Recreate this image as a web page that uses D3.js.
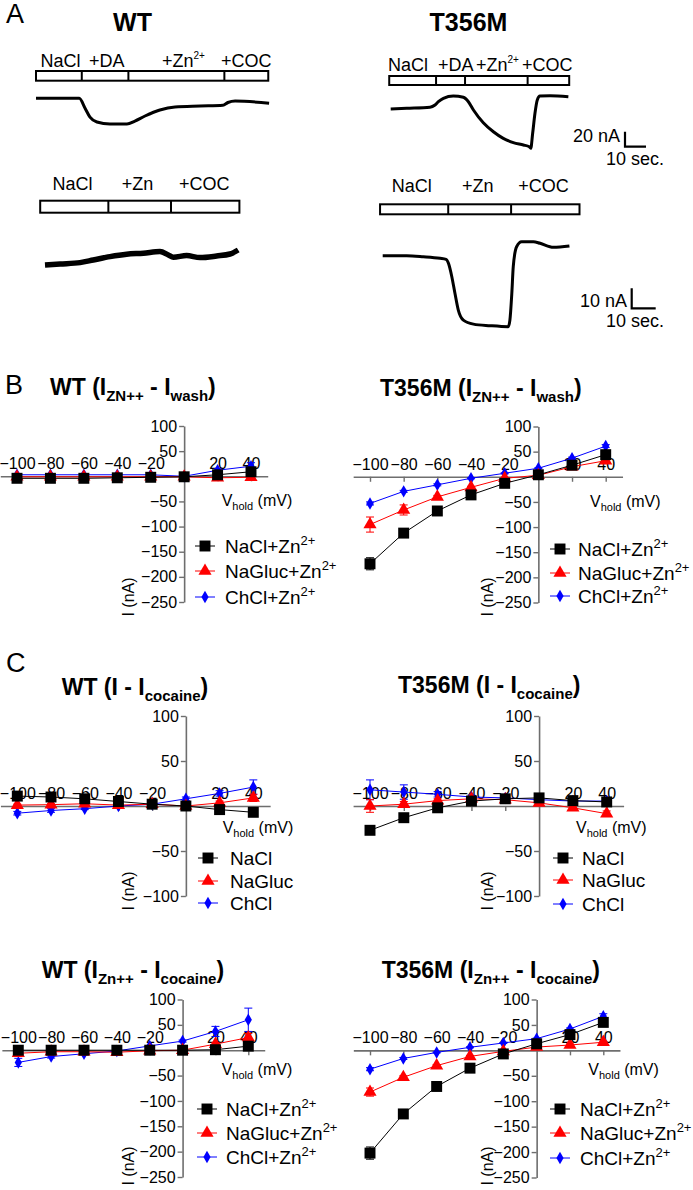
<!DOCTYPE html>
<html>
<head>
<meta charset="utf-8">
<script src="https://cdn.jsdelivr.net/npm/d3@7"></script>
<style>
  body { margin: 0; background: #fff; }
  svg { font-family: "Liberation Sans", Arial, Helvetica, sans-serif; }
  text { white-space: pre; }
</style>
</head>
<body>
<svg id="fig" width="693" height="1190"></svg>
<script>
// ---- panel A traces (time in s, current in nA, relative to start) ----
const wtTopT = [0, 20.6, 23.3, 25.7, 29, 35.2, 43.3, 47.1, 51.9, 59, 66.2, 78.1, 89, 91.4, 94.8, 111];
const wtTopI = [0, 0, -12.9, -25.1, -31.6, -34.3, -34.3, -30.3, -23.6, -15.6, -11.6, -10.3, -9.3, -5.6, -3.6, -6.7];
const mutTopT = [0, 7.6, 18.7, 21.1, 22.7, 25.1, 29.8, 34.6, 37, 39.4, 44.1, 48.9, 53.6, 58.4, 63.2, 66, 66.7, 67.6, 68.7, 69.8, 71.1, 75.9, 84.6];
const mutTopI = [0, 0.9, 2.3, 5.3, 9.7, 14.3, 17.3, 15.6, 9.7, -1.3, -18.3, -30.3, -39.1, -44.9, -48, -50.3, -52.4, -32.4, -5.7, 12, 17.3, 17.7, 16.4];
const wtBotT = [0, 6.3, 14.6, 20.1, 27.1, 34, 41, 47.9, 51.4, 53.5, 59, 64.6, 71.5, 77.1, 80.5];
const wtBotI = [0, 0.5, 1.2, 2.5, 4.2, 5.4, 5.9, 6.7, 5, 3.9, 4.7, 3.7, 4.5, 5.5, 7.5];
const mutBotT = [0, 10, 16.9, 23.9, 26.4, 27.4, 28.8, 30.1, 31.5, 33.6, 37.8, 44.7, 52.3, 53, 53.8, 54.4, 55.8, 57.9, 62.8, 65.6, 71.1, 77.8];
const mutBotI = [0, 0, -0.5, -1.3, -1.8, -3.8, -10.5, -18.8, -27.2, -32.2, -34.2, -35, -35.5, -32.2, -18.8, -5.5, 4.5, 7, 7, 6.2, 4.2, 4.9];

// protocol bar boundaries (s) and labels
const wtTopBar = [0, 21.8, 44, 89.7, 110.6];
const mutTopBar = [-0.7, 21.6, 35.4, 65.2, 85];
const wtBotBar = [-2, 26.4, 52.5, 81];
const mutBotBar = [-1.1, 27.3, 53.5, 82];
const topLabels = ["NaCl", "+DA", "+Zn", "+COC"];
const botLabels = ["NaCl", "+Zn", "+COC"];
const wtTopLabelT = [2.2, 25.2, 60, 88.1];
const mutTopLabelT = [-1.3, 22.5, 40.6, 62.5];
const wtBotLabelT = [11.5, 38.6, 66.4];
const mutBotLabelT = [12.1, 39.6, 67];

// ---- I-V data ----
const volts = [-100, -80, -60, -40, -20, 0, 20, 40];
const xTickVals = [-100, -80, -60, -40, -20, 20, 40];
const bigTicks = [100, 50, -50, -100, -150, -200, -250];
const smallTicks = [100, 50, -50, -100];
const colors = ["#000000", "#ff0000", "#0000ff"];

// B: I(Zn++) - I(wash)
const bWtNaCl = [-4, -4, -4, -3, -2, -1, 3, 9];
const bWtNaClErr = [1, 1, 1, 1, 1, 1, 2, 3];
const bWtNaGluc = [-1, -1, -1, -1, -1, -1, -3, -2];
const bWtNaGlucErr = [1, 1, 1, 1, 1, 1, 2, 2];
const bWtChCl = [3, 3, 3, 3, 3, 0, 12, 20];
const bWtChClErr = [1, 1, 1, 1, 1, 1, 3, 7];
const bMutNaCl = [-173, -112, -68, -36, -13, 4, 23, 44];
const bMutNaClErr = [12, 5, 3, 3, 2, 1, 3, 4];
const bMutNaGluc = [-95, -66, -40, -21, -3, 3, 20, 32];
const bMutNaGlucErr = [15, 10, 3, 2, 2, 1, 2, 3];
const bMutChCl = [-53, -29, -16, -3, 7, 17, 37, 61];
const bMutChClErr = [3, 2, 2, 1, 1, 1, 2, 3];

// C top: I - I(cocaine)
const cWtNaCl = [11, 10, 8, 5, 2, 0, -4, -7];
const cWtNaClErr = [2, 2, 2, 2, 1, 1, 2, 3];
const cWtNaGluc = [1, 1.5, 2.5, 1, 2, 0, 3.5, 9];
const cWtNaGlucErr = [1, 1, 1, 1, 1, 1, 2, 4];
const cWtChCl = [-8, -5, -3, 0, 2, 8, 14, 21];
const cWtChClErr = [2, 2, 1, 1, 1, 2, 3, 8];
const cMutNaCl = [-27, -13, -2, 5.5, 8, 9, 6, 4.5];
const cMutNaClErr = [2, 2, 1, 1, 1, 1, 1, 2];
const cMutNaGluc = [0, 2, 6, 8, 7, 3.5, -2, -8.5];
const cMutNaGlucErr = [7, 3, 2, 1, 1, 1, 2, 3];
const cMutChCl = [18, 15.5, 13, 10, 9, 7, 5.5, 5.5];
const cMutChClErr = [11, 8, 3, 2, 1, 1, 2, 4];

// C bottom: I(Zn++) - I(cocaine)
const dWtNaCl = [0, 0, 0, 0, 0, 0, 1, 8];
const dWtNaClErr = [1, 1, 1, 1, 1, 1, 1, 3];
const dWtNaGluc = [-6, -3, -3, -4, -1, 0, 12, 25];
const dWtNaGlucErr = [2, 1, 1, 1, 1, 1, 3, 8];
const dWtChCl = [-24, -12.5, -7, -1.5, 8.5, 18, 37, 60];
const dWtChClErr = [8, 3, 2, 1, 1, 2, 10, 23];
const dMutNaCl = [-202, -125, -71, -35, -7, 13, 31, 55];
const dMutNaClErr = [12, 5, 4, 3, 2, 2, 3, 5];
const dMutNaGluc = [-82, -53, -30, -12, -2, 6.5, 10.5, 16];
const dMutNaGlucErr = [8, 3, 2, 2, 1, 1, 2, 2];
const dMutChCl = [-37, -16, -4, 6, 14.5, 23, 42, 67];
const dMutChClErr = [3, 2, 1, 1, 1, 1, 2, 5];

const svg = d3.select("#fig");

// text with sub/superscripts: segs = [text, size, baseline offset, weight]
function rich(t, segs) {
  let cur = 0;
  segs.forEach(([s, fs, off, w]) => {
    t.append("tspan").attr("font-size", fs).attr("dy", off - cur)
      .attr("font-weight", w || null).text(s);
    cur = off;
  });
  return t;
}

// ---- panel letters ----
[["A", 6, 23], ["B", 5, 394], ["C", 6, 672]].forEach(([s, x, y]) => {
  svg.append("text").attr("x", x).attr("y", y).attr("font-size", 27).text(s);
});

// ---- panel A ----
[["WT", 132.5], ["T356M", 468.5]].forEach(([s, x]) => {
  svg.append("text").attr("x", x).attr("y", 31).attr("text-anchor", "middle")
    .attr("font-size", 25).attr("font-weight", "bold").text(s);
});

const traces = [
  { t: wtTopT, I: wtTopI, x0: 36, sx: 2.1, y0: 98.3, sy: 0.75, lw: 3,
    bar: wtTopBar, barY: 71, barH: 9.7, labels: topLabels, lt: wtTopLabelT, ly: 66.7, anchor: "start" },
  { t: mutTopT, I: mutTopI, x0: 390.7, sx: 2.1, y0: 109, sy: 0.75, lw: 3,
    bar: mutTopBar, barY: 76, barH: 9, labels: topLabels, lt: mutTopLabelT, ly: 71, anchor: "start",
    scale: { nA: 20, s: 10, cx: 625, cy: 146.7, nAx: 620, nAy: 141.5, sx2: 606, sy2: 165 } },
  { t: wtBotT, I: wtBotI, x0: 45, sx: 2.4, y0: 265, sy: 2, lw: 5.5,
    bar: wtBotBar, barY: 200.7, barH: 12, labels: botLabels, lt: wtBotLabelT, ly: 190, anchor: "middle" },
  { t: mutBotT, I: mutBotI, x0: 382.7, sx: 2.4, y0: 255.7, sy: 2, lw: 3,
    bar: mutBotBar, barY: 204.3, barH: 10, labels: botLabels, lt: mutBotLabelT, ly: 192.3, anchor: "middle",
    scale: { nA: 10, s: 10, cx: 631.7, cy: 308.3, nAx: 627, nAy: 306.5, sx2: 606, sy2: 327.3 } }
];

traces.forEach(c => {
  const x = d3.scaleLinear().domain([0, 100]).range([c.x0, c.x0 + 100 * c.sx]);
  const y = d3.scaleLinear().domain([0, 100]).range([c.y0, c.y0 - 100 * c.sy]);
  const g = svg.append("g");
  // protocol bar
  g.append("rect").attr("x", x(c.bar[0])).attr("y", c.barY)
    .attr("width", x(c.bar[c.bar.length - 1]) - x(c.bar[0])).attr("height", c.barH)
    .attr("fill", "#fff").attr("stroke", "#000").attr("stroke-width", 2);
  c.bar.slice(1, -1).forEach(b => {
    g.append("line").attr("x1", x(b)).attr("x2", x(b)).attr("y1", c.barY).attr("y2", c.barY + c.barH)
      .attr("stroke", "#000").attr("stroke-width", 2);
  });
  c.labels.forEach((s, i) => {
    const t = g.append("text").attr("x", x(c.lt[i])).attr("y", c.ly)
      .attr("text-anchor", c.anchor).attr("font-size", 18);
    if (s === "+Zn" && c.anchor === "start") rich(t, [["+Zn", 18, 0], ["2+", 10, -8]]);
    else t.text(s);
  });
  // trace
  const line = d3.line().x(d => x(d[0])).y(d => y(d[1])).curve(d3.curveMonotoneX);
  g.append("path").attr("d", line(d3.zip(c.t, c.I))).attr("fill", "none")
    .attr("stroke", "#000").attr("stroke-width", c.lw).attr("stroke-linejoin", "round");
  // scale bar
  if (c.scale) {
    const s = c.scale;
    const h = y(0) - y(s.nA), w = x(s.s) - x(0);
    g.append("path").attr("d", `M${s.cx},${s.cy - h}V${s.cy}H${s.cx + w}`)
      .attr("fill", "none").attr("stroke", "#000").attr("stroke-width", 2.2);
    g.append("text").attr("x", s.nAx).attr("y", s.nAy).attr("text-anchor", "end")
      .attr("font-size", 18).text(`${s.nA} nA`);
    g.append("text").attr("x", s.sx2).attr("y", s.sy2).attr("font-size", 18).text(`${s.s} sec.`);
  }
});

// ---- I-V panels ----
const zLegend = [[["NaCl+Zn", 19, 0], ["2+", 13, -8]],
                 [["NaGluc+Zn", 19, 0], ["2+", 13, -8]],
                 [["ChCl+Zn", 19, 0], ["2+", 13, -8]]];
const plainLegend = [[["NaCl", 19, 0]], [["NaGluc", 19, 0]], [["ChCl", 19, 0]]];
const B = "bold";
const tWash = n => [[n + " (I", 23, 0, B], ["ZN++", 15, 6, B], [" - I", 23, 0, B], ["wash", 15, 6, B], [")", 23, 0, B]];
const tCoc = n => [[n + " (I - I", 23, 0, B], ["cocaine", 15, 6, B], [")", 23, 0, B]];
const tZnCoc = n => [[n + " (I", 23, 0, B], ["Zn++", 15, 6, B], [" - I", 23, 0, B], ["cocaine", 15, 6, B], [")", 23, 0, B]];

const ivPanels = [
  { title: tWash("WT"), tx: 50, ty: 395, xa: 17, xb: 251, yTop: 426, yBot: 602, yMin: -250, ticks: bigTicks,
    series: [[bWtNaCl, bWtNaClErr], [bWtNaGluc, bWtNaGlucErr], [bWtChCl, bWtChClErr]],
    legend: zLegend, lx: 205, ltx: 225, ly: [546, 571, 597], vx: 221.7, vy: 506, ix: 128, iy: 597 },
  { title: tWash("T356M"), tx: 380, ty: 396, xa: 370, xb: 605.7, yTop: 426.5, yBot: 602.5, yMin: -250, ticks: bigTicks,
    series: [[bMutNaCl, bMutNaClErr], [bMutNaGluc, bMutNaGlucErr], [bMutChCl, bMutChClErr]],
    legend: zLegend, lx: 560, ltx: 578, ly: [549, 573, 596], vx: 590, vy: 506.5, ix: 487, iy: 597 },
  { title: tCoc("WT"), tx: 61.7, ty: 695, xa: 17.3, xb: 253.3, yTop: 716, yBot: 896, yMin: -100, ticks: smallTicks,
    series: [[cWtNaCl, cWtNaClErr], [cWtNaGluc, cWtNaGlucErr], [cWtChCl, cWtChClErr]],
    legend: plainLegend, lx: 208, ltx: 230, ly: [858, 881, 903], vx: 222.7, vy: 833, ix: 128, iy: 891 },
  { title: tCoc("T356M"), tx: 398, ty: 693, xa: 370, xb: 606.7, yTop: 716, yBot: 896, yMin: -100, ticks: smallTicks,
    series: [[cMutNaCl, cMutNaClErr], [cMutNaGluc, cMutNaGlucErr], [cMutChCl, cMutChClErr]],
    legend: plainLegend, lx: 563, ltx: 582, ly: [858, 880, 904], vx: 576, vy: 833, ix: 487, iy: 891 },
  { title: tZnCoc("WT"), tx: 41.7, ty: 978, xa: 18.3, xb: 248.3, yTop: 999.5, yBot: 1177, yMin: -250, ticks: bigTicks,
    series: [[dWtNaCl, dWtNaClErr], [dWtNaGluc, dWtNaGlucErr], [dWtChCl, dWtChClErr]],
    legend: zLegend, lx: 207, ltx: 226, ly: [1109, 1133, 1157], vx: 221.7, vy: 1075, ix: 128, iy: 1166 },
  { title: tZnCoc("T356M"), tx: 381.7, ty: 978, xa: 370, xb: 603.3, yTop: 999.5, yBot: 1177.5, yMin: -250, ticks: bigTicks,
    series: [[dMutNaCl, dMutNaClErr], [dMutNaGluc, dMutNaGlucErr], [dMutChCl, dMutChClErr]],
    legend: zLegend, lx: 560, ltx: 580, ly: [1109, 1133, 1158], vx: 588.3, vy: 1075, ix: 487, iy: 1166 }
];

const symbols = [d3.symbol(d3.symbolSquare, 120), d3.symbol(d3.symbolTriangle, 75), d3.symbol(d3.symbolDiamond, 45)];
const axisColor = "#6e6e6e";

ivPanels.forEach(p => {
  const k = (p.xb - p.xa) / 140;
  const x = d3.scaleLinear().domain([-110, 50]).range([p.xa - 10 * k, p.xb + 10 * k]);
  const y = d3.scaleLinear().domain([p.yMin, 100]).range([p.yBot, p.yTop]);
  const g = svg.append("g");

  rich(g.append("text").attr("x", p.tx).attr("y", p.ty), p.title);

  // x axis through zero, labels above the line
  const gx = g.append("g").attr("transform", `translate(0,${y(0)})`)
    .call(d3.axisBottom(x).tickValues(xTickVals).tickSize(5).tickSizeOuter(0));
  gx.selectAll("text").attr("y", -7).attr("dy", null).attr("font-size", 16).attr("fill", "#000");
  // y axis through zero voltage
  const gy = g.append("g").attr("transform", `translate(${x(0)},0)`)
    .call(d3.axisLeft(y).tickValues(p.ticks).tickSize(5).tickSizeOuter(0).tickPadding(2));
  gy.selectAll("text").attr("font-size", 16).attr("fill", "#000");
  [gx, gy].forEach(a => {
    a.attr("font-family", null);
    a.select(".domain").attr("stroke", axisColor).attr("stroke-width", 1.6);
    a.selectAll(".tick line").attr("stroke", axisColor).attr("stroke-width", 1.4);
  });

  rich(g.append("text").attr("x", p.vx).attr("y", p.vy), [["V", 16, 0], ["hold", 11, 4], [" (mV)", 16, 0]]);
  g.append("text").attr("transform", `translate(${p.ix + 6},${p.iy}) rotate(-90)`)
    .attr("text-anchor", "middle").attr("font-size", 16).text("I (nA)");

  // series, drawn so black ends on top
  [2, 1, 0].forEach(si => {
    const [vals, errs] = p.series[si];
    const col = colors[si];
    const pts = volts.map((v, i) => [v, vals[i], errs[i]]);
    g.append("path").attr("d", d3.line().x(d => x(d[0])).y(d => y(d[1]))(pts))
      .attr("fill", "none").attr("stroke", col).attr("stroke-width", 1);
    pts.forEach(([v, m, e]) => {
      const cx = x(v);
      g.append("path").attr("d", `M${cx},${y(m - e)}V${y(m + e)}M${cx - 4},${y(m - e)}H${cx + 4}M${cx - 4},${y(m + e)}H${cx + 4}`)
        .attr("stroke", col).attr("stroke-width", 1).attr("fill", "none");
      g.append("path").attr("d", symbols[si]()).attr("transform", `translate(${cx},${y(m)})`).attr("fill", col);
    });
  });

  // legend
  p.legend.forEach((lab, i) => {
    const ly = p.ly[i];
    g.append("line").attr("x1", p.lx - 10).attr("x2", p.lx + 10).attr("y1", ly).attr("y2", ly)
      .attr("stroke", colors[i]).attr("stroke-width", 1);
    g.append("path").attr("d", symbols[i]()).attr("transform", `translate(${p.lx},${ly})`).attr("fill", colors[i]);
    rich(g.append("text").attr("x", p.ltx).attr("y", ly + 7), lab);
  });
});
</script>
</body>
</html>
